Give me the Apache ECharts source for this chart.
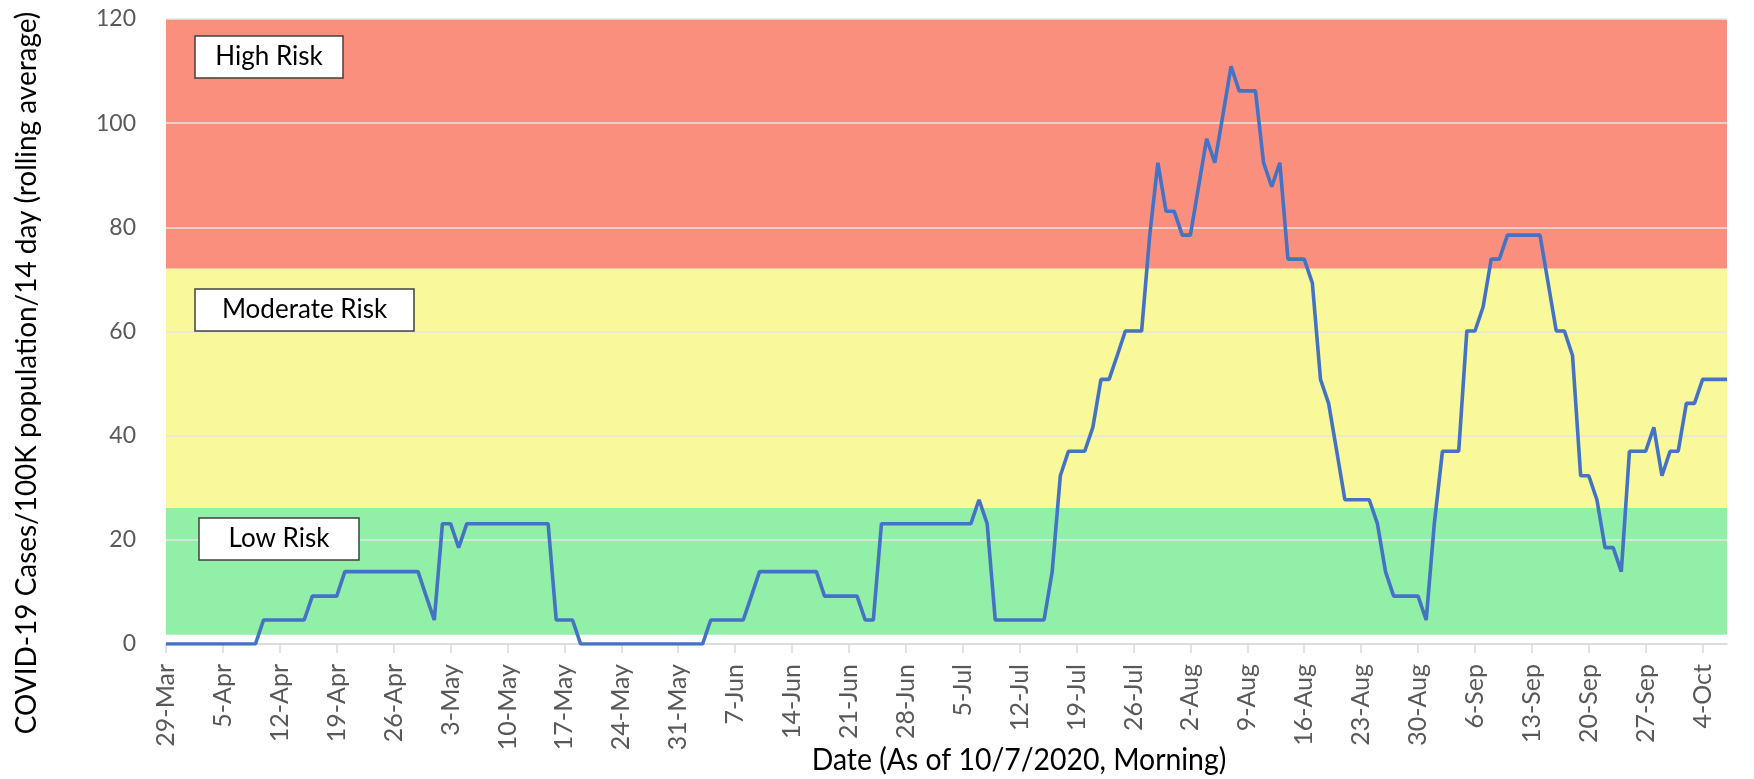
<!DOCTYPE html>
<html>
<head>
    <meta charset="utf-8">
    <title>COVID-19 Cases/100K population/14 day</title>
    <script src="https://cdn.jsdelivr.net/npm/echarts@6/dist/echarts.min.js"></script>
    <style>
        html, body { margin: 0; padding: 0; background: #fff; }
        #chart { width: 1754px; height: 779px; }
    </style>
</head>
<body>
<div id="chart"></div>
<script>
    // one value per day, 29-Mar .. 7-Oct 2020
    var startDay = [2020, 2, 29];
    var dayCount = 193;
    var monthNames = ['Jan', 'Feb', 'Mar', 'Apr', 'May', 'Jun', 'Jul', 'Aug', 'Sep', 'Oct', 'Nov', 'Dec'];

    var rate = [
        0, 0, 0, 0, 0, 0, 0, 0, 0, 0, 0, 0,
        4.6, 4.6, 4.6, 4.6, 4.6, 4.6,
        9.2, 9.2, 9.2, 9.2,
        13.9, 13.9, 13.9, 13.9, 13.9, 13.9, 13.9, 13.9, 13.9, 13.9,
        9.2, 4.6, 23.1, 23.1, 18.5,
        23.1, 23.1, 23.1, 23.1, 23.1, 23.1, 23.1, 23.1, 23.1, 23.1, 23.1,
        4.6, 4.6, 4.6,
        0, 0, 0, 0, 0, 0, 0, 0, 0, 0, 0, 0, 0, 0, 0, 0,
        4.6, 4.6, 4.6, 4.6, 4.6,
        9.2,
        13.9, 13.9, 13.9, 13.9, 13.9, 13.9, 13.9, 13.9,
        9.2, 9.2, 9.2, 9.2, 9.2,
        4.6, 4.6,
        23.1, 23.1, 23.1, 23.1, 23.1, 23.1, 23.1, 23.1, 23.1, 23.1, 23.1, 23.1,
        27.7, 23.1,
        4.6, 4.6, 4.6, 4.6, 4.6, 4.6, 4.6,
        13.9, 32.3, 37.0, 37.0, 37.0, 41.6, 50.8, 50.8, 55.4,
        60.1, 60.1, 60.1,
        78.5, 92.4, 83.1, 83.1, 78.5, 78.5, 87.8, 97.0, 92.4, 101.6, 110.9,
        106.2, 106.2, 106.2,
        92.4, 87.8, 92.4,
        73.9, 73.9, 73.9,
        69.3, 50.8, 46.2, 37.0,
        27.7, 27.7, 27.7, 27.7,
        23.1, 13.9,
        9.2, 9.2, 9.2, 9.2,
        4.6, 23.1,
        37.0, 37.0, 37.0,
        60.1, 60.1, 64.7, 73.9, 73.9,
        78.5, 78.5, 78.5, 78.5, 78.5,
        69.3, 60.1, 60.1, 55.4,
        32.3, 32.3, 27.7, 18.5, 18.5, 13.9,
        37.0, 37.0, 37.0, 41.6, 32.3, 37.0, 37.0,
        46.2, 46.2,
        50.8, 50.8, 50.8, 50.8
    ];

    // risk bands (lower / upper bound in y-axis units)
    var bandNames = ['Low Risk', 'Moderate Risk', 'High Risk'];
    var bandFrom = [1.8, 26.1, 72.1];
    var bandTo = [26.1, 72.1, 120];
    var bandColors = ['#92efa7', '#f9f89b', '#f98f7c'];

    var yTicks = [0, 20, 40, 60, 80, 100, 120];

    var dates = [];
    for (var i = 0; i < dayCount; i++) {
        var d = new Date(Date.UTC(startDay[0], startDay[1], startDay[2] + i));
        dates.push(d.getUTCDate() + '-' + monthNames[d.getUTCMonth()]);
    }

    var bandAreas = bandNames.map(function (name, k) {
        return [
            { name: name, yAxis: bandFrom[k], itemStyle: { color: bandColors[k], opacity: 1 } },
            { yAxis: bandTo[k] }
        ];
    });

    // label boxes at the left of each band
    var boxes = [
        { text: 'High Risk', x: 195, y: 36, w: 148 },
        { text: 'Moderate Risk', x: 195, y: 289, w: 219 },
        { text: 'Low Risk', x: 199, y: 518, w: 160 }
    ];
    var graphics = [];
    boxes.forEach(function (b) {
        graphics.push({
            type: 'rect', z: 10,
            shape: { x: b.x, y: b.y, width: b.w, height: 42 },
            style: { fill: '#fff', stroke: '#404040', lineWidth: 1.5 }
        });
        graphics.push({
            type: 'text', z: 11,
            x: b.x + b.w / 2, y: b.y + 21,
            style: { text: b.text, fill: '#000', font: '26px Lato', textAlign: 'center', textVerticalAlign: 'middle' }
        });
    });
    // axis titles (the original font is narrower, so squeeze a little along the text)
    graphics.push({
        type: 'text', x: 27, y: 373, rotation: Math.PI / 2, scaleX: 0.963,
        style: {
            text: 'COVID-19 Cases/100K population/14 day (rolling average)',
            fill: '#000', font: '29px Lato', textAlign: 'center', textVerticalAlign: 'middle'
        }
    });
    graphics.push({
        type: 'text', x: 1019, y: 760, scaleX: 0.946,
        style: {
            text: 'Date (As of 10/7/2020, Morning)',
            fill: '#000', font: '30px Lato', textAlign: 'center', textVerticalAlign: 'middle'
        }
    });

    var myChart = echarts.init(document.getElementById('chart'));
    myChart.setOption({
        animation: false,
        grid: { left: 166, right: 27, top: 19, bottom: 135 },
        xAxis: {
            type: 'category',
            data: dates,
            boundaryGap: false,
            z: 1.5,
            axisLine: { lineStyle: { color: '#d9d9d9', width: 1.5 } },
            axisTick: { interval: 6, length: 9, lineStyle: { color: '#d9d9d9', width: 1.5 } },
            axisLabel: { interval: 6, rotate: 90, margin: 20, color: '#595959', fontFamily: 'Lato', fontSize: 25 }
        },
        yAxis: {
            type: 'value',
            min: yTicks[0],
            max: yTicks[yTicks.length - 1],
            interval: yTicks[1] - yTicks[0],
            z: 1.5,
            axisLine: { show: false },
            axisTick: { show: false },
            axisLabel: { margin: 30, color: '#595959', fontFamily: 'Lato', fontSize: 23 },
            splitLine: { lineStyle: { color: '#e4e4e4', width: 1.5 } }
        },
        series: [{
            name: 'rate',
            type: 'line',
            data: rate,
            symbol: 'none',
            lineStyle: { color: '#4472c4', width: 3.6 },
            markArea: { silent: true, label: { show: false }, data: bandAreas }
        }],
        graphic: graphics
    });
</script>
</body>
</html>
